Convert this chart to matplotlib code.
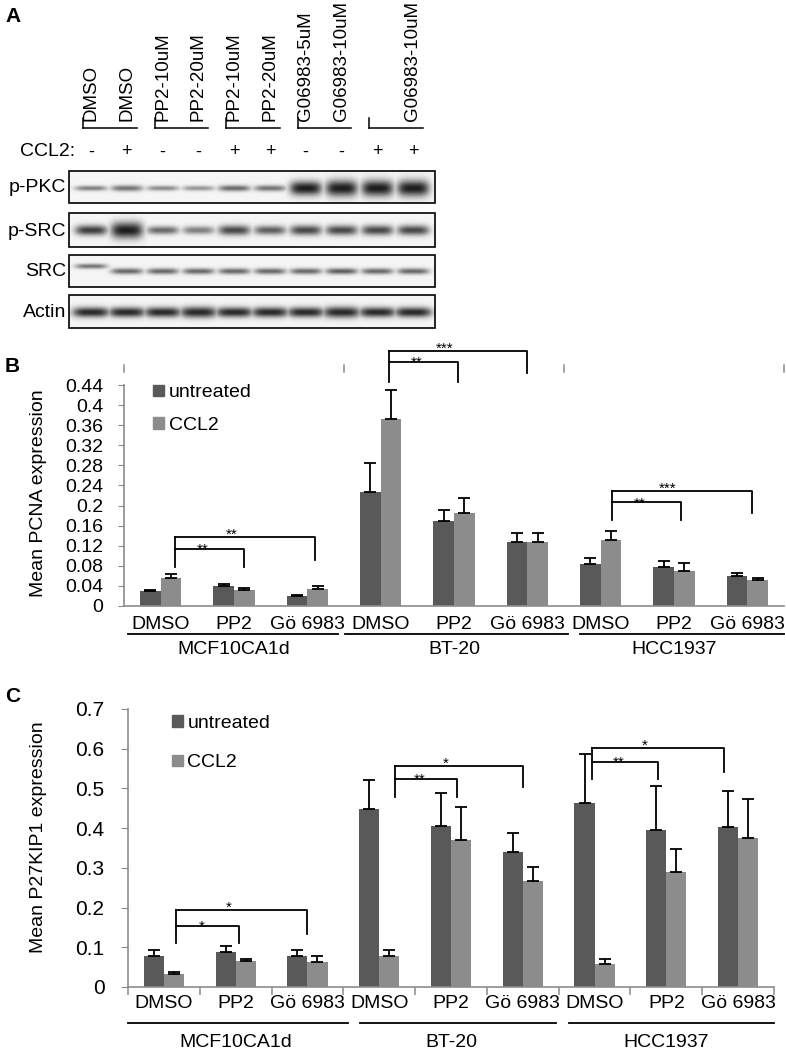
import numpy as np
import matplotlib.pyplot as plt
from matplotlib.patches import Patch, Rectangle
from matplotlib.transforms import blended_transform_factory

plt.rcParams['font.family'] = ['Liberation Sans', 'DejaVu Sans']

# ---------------- data ----------------
# panel A (western blot)
lane_names = ['DMSO', 'DMSO', 'PP2-10uM', 'PP2-20uM', 'PP2-10uM', 'PP2-20uM',
              'G06983-5uM', 'G06983-10uM', '', 'G06983-10uM']
ccl2_signs = ['-', '+', '-', '-', '+', '+', '-', '-', '+', '+']
blot_rows = ['p-PKC', 'p-SRC', 'SRC', 'Actin']
ppkc_int = [0.55, 0.6, 0.5, 0.45, 0.65, 0.6, 1.0, 1.0, 1.0, 1.0]
ppkc_thick = [2.5, 3, 2.5, 2.5, 3, 3, 7, 8, 8, 8]
psrc_int = [0.85, 1.0, 0.65, 0.55, 0.8, 0.7, 0.8, 0.8, 0.8, 0.8]
psrc_thick = [5, 8, 4, 4, 5, 4.5, 5, 5, 5, 5]
src_int = [0.6, 0.65, 0.65, 0.65, 0.65, 0.65, 0.65, 0.7, 0.65, 0.65]
src_thick = [2.5, 3, 3, 3, 3, 3, 3, 3, 3, 3]
actin_int = [0.95] * 10
actin_thick = [5, 5, 5, 5.5, 5, 5, 5, 5.5, 5, 5]

# panels B and C
treatments = ['DMSO', 'PP2', 'Gö 6983']
cell_lines = ['MCF10CA1d', 'BT-20', 'HCC1937']

pcna_untreated = [0.030, 0.039, 0.0206, 0.226, 0.169, 0.127, 0.083, 0.078, 0.059]
pcna_untreated_err = [0.002, 0.005, 0.002, 0.058, 0.023, 0.019, 0.0126, 0.012, 0.007]
pcna_ccl2 = [0.056, 0.0325, 0.0345, 0.372, 0.186, 0.127, 0.132, 0.069, 0.0525]
pcna_ccl2_err = [0.007, 0.004, 0.0045, 0.058, 0.030, 0.019, 0.017, 0.0167, 0.0035]

p27_untreated = [0.079, 0.089, 0.079, 0.449, 0.406, 0.339, 0.464, 0.395, 0.403]
p27_untreated_err = [0.013, 0.015, 0.013, 0.072, 0.083, 0.048, 0.122, 0.111, 0.091]
p27_ccl2 = [0.033, 0.065, 0.0625, 0.079, 0.370, 0.267, 0.058, 0.290, 0.375]
p27_ccl2_err = [0.006, 0.005, 0.0145, 0.015, 0.083, 0.035, 0.012, 0.058, 0.098]

# significance brackets: [base, inner, outer, outer_end] per cell line
pcna_sig_inner = ['**', '**', '**']
pcna_sig_outer = ['**', '***', '***']
pcna_brk = [[0.078, 0.114, 0.137, 0.092],
            [0.446, 0.486, 0.508, 0.464],
            [0.171, 0.207, 0.229, 0.185]]
p27_sig_inner = ['*', '**', '**']
p27_sig_outer = ['*', '*', '*']
p27_brk = [[0.111, 0.154, 0.194, 0.134],
           [0.478, 0.524, 0.557, 0.504],
           [0.524, 0.567, 0.602, 0.542]]

dark = '#595959'
light = '#8c8c8c'
axis_grey = '#8c8c8c'

fig = plt.figure(figsize=(7.86, 10.5), dpi=100)

# ---------------- panel A ----------------
axA = fig.add_axes([0, 0, 1, 1])
axA.axis('off')

lane_x = np.linspace(91, 413, len(lane_names))
for x, name in zip(lane_x, lane_names):
    axA.text(x, 121, name, rotation=90, ha='center', va='bottom', fontsize=13.5)
for g in range(5):
    xa, xb = lane_x[2 * g] - 8, lane_x[2 * g + 1] + 10
    axA.plot([xa, xb], [128, 128], color='k', lw=1.1)
    axA.plot([xa, xa], [118, 128], color='k', lw=1.1)

axA.text(20, 152, 'CCL2:', ha='left', va='center', fontsize=14)
for x, s in zip(lane_x, ccl2_signs):
    axA.text(x, 152, s, ha='center', va='center', fontsize=13)

boxes = [(171, 203, 188), (213, 247, 230), (255, 287, 271), (295, 328, 312)]
intens = [ppkc_int, psrc_int, src_int, actin_int]
thicks = [ppkc_thick, psrc_thick, src_thick, actin_thick]
bx0, bx1 = 69, 435
xx = np.arange(bx0, bx1, 0.5)
for (y0, y1, yc), name, ints, ths in zip(boxes, blot_rows, intens, thicks):
    yy = np.arange(y0, y1, 0.5)
    X, Y = np.meshgrid(xx, yy)
    dk = np.zeros_like(X)
    for i, (xc, a, th) in enumerate(zip(lane_x, ints, ths)):
        yoff = -5 if (name == 'SRC' and i == 0) else 0
        hw = 16 if name != 'Actin' else 18.5
        band = a * np.exp(-(np.abs(X - xc) / hw) ** 4) * np.exp(-((Y - yc - yoff) / th) ** 2)
        dk = np.maximum(dk, band)
    img = 0.96 - 0.85 * dk
    axA.imshow(img, cmap='gray', vmin=0, vmax=1, extent=(bx0, bx1, y1, y0),
               interpolation='bilinear', aspect='auto')
    axA.add_patch(Rectangle((bx0, y0), bx1 - bx0, y1 - y0, fill=False, ec='k', lw=1.2))
    axA.text(66, (y0 + y1) / 2 + 1, name, ha='right', va='center', fontsize=14)
axA.set_xlim(0, 786)
axA.set_ylim(1050, 0)

axA.text(5, 17, 'A', fontsize=15, fontweight='bold', va='center', ha='left')
axA.text(5, 367, 'B', fontsize=15, fontweight='bold', va='center', ha='left')
axA.text(5, 697, 'C', fontsize=15, fontweight='bold', va='center', ha='left')


def bar_panel(ax, unt, unt_err, ccl, ccl_err, ylim, yticks, legend_anchor, spacing):
    x = np.arange(len(unt))
    w = 0.28
    ax.bar(x - w / 2, unt, w, color=dark, zorder=2)
    ax.bar(x + w / 2, ccl, w, color=light, zorder=2)
    ax.errorbar(x - w / 2, unt, yerr=[np.zeros(len(unt)), unt_err], fmt='none',
                ecolor='k', elinewidth=1.3, capsize=4, capthick=1.3, zorder=3)
    ax.errorbar(x + w / 2, ccl, yerr=[np.zeros(len(ccl)), ccl_err], fmt='none',
                ecolor='k', elinewidth=1.3, capsize=4, capthick=1.3, zorder=3)
    ax.set_xlim(-0.5, len(unt) - 0.5)
    ax.set_ylim(*ylim)
    ax.set_yticks(yticks)
    ax.set_yticklabels([('%g' % t) for t in yticks])
    ax.set_xticks(x)
    ax.set_xticklabels(treatments * 3)
    for s in ['top', 'right']:
        ax.spines[s].set_visible(False)
    for s in ['left', 'bottom']:
        ax.spines[s].set_color(axis_grey)
        ax.spines[s].set_linewidth(1.2)
    ax.set_facecolor('none')
    ax.legend(handles=[Patch(color=dark, label='untreated'), Patch(color=light, label='CCL2')],
              frameon=False, fontsize=14, handlelength=0.55, handleheight=0.55,
              handletextpad=0.25, borderpad=0, borderaxespad=0, loc='upper left',
              bbox_to_anchor=legend_anchor, labelspacing=spacing)


def brackets(ax, brk, lab_in, lab_out, off_l, off_in, off_out):
    for g in range(3):
        base, inner, outer, oend = brk[g]
        xl = 3 * g + off_l[g]
        xi = 3 * g + 1 + off_in[g]
        xo = 3 * g + 2 + off_out[g]
        kw = dict(color='k', lw=1.3, clip_on=False, zorder=4)
        ax.plot([xl, xl], [base, outer], **kw)
        ax.plot([xl, xo, xo], [outer, outer, oend], **kw)
        ax.plot([xl, xi, xi], [inner, inner, base], **kw)
        ax.annotate(lab_out[g], (xl + 0.4 * (xo - xl), outer), xytext=(0, -3.5),
                    textcoords='offset points', ha='center', va='bottom', fontsize=11,
                    annotation_clip=False)
        ax.annotate(lab_in[g], (xl + 0.4 * (xi - xl), inner), xytext=(0, -6),
                    textcoords='offset points', ha='center', va='bottom', fontsize=11,
                    annotation_clip=False)


def groups(ax, y_line, y_text, spans):
    tr = blended_transform_factory(ax.transData, ax.transAxes)
    for g, name in enumerate(cell_lines):
        a, b = spans[g]
        ax.plot([a, b], [y_line, y_line], color='k', lw=1.3, transform=tr, clip_on=False)
        ax.text(3 * g + 1, y_text, name, transform=tr, ha='center', va='center', fontsize=14)


# ---------------- panel B ----------------
axB = fig.add_axes([124 / 786, 1 - 606 / 1050, 660 / 786, 221 / 1050])
bar_panel(axB, pcna_untreated, pcna_untreated_err, pcna_ccl2, pcna_ccl2_err,
          (0, 0.44), np.round(np.arange(0, 0.45, 0.04), 2), (0.044, 1.003), 0.8)
axB.tick_params(axis='y', length=4, color=axis_grey, pad=11, labelsize=14)
axB.tick_params(axis='x', length=0, pad=7, labelsize=14)
brackets(axB, pcna_brk, pcna_sig_inner, pcna_sig_outer,
         [0.2, 0.11, 0.15], [0.14, 0.05, 0.1], [0.11, 0.0, 0.07])
groups(axB, -0.127, -0.199, [(-0.44, 2.42), (2.51, 5.56), (5.72, 8.5)])
trB = blended_transform_factory(axB.transData, axB.transAxes)
for xb in np.arange(-0.5, 9, 3):
    axB.plot([xb, xb], [1.06, 1.09], color=axis_grey, lw=1.1, transform=trB, clip_on=False)
fig.text(39 / 786, 1 - 493 / 1050, 'Mean PCNA expression', rotation=90,
         ha='center', va='center', fontsize=14)

# ---------------- panel C ----------------
axC = fig.add_axes([128 / 786, 1 - 987 / 1050, 646 / 786, 278 / 1050])
bar_panel(axC, p27_untreated, p27_untreated_err, p27_ccl2, p27_ccl2_err,
          (0, 0.7), np.round(np.arange(0, 0.71, 0.1), 1), (0.068, 0.978), 1.15)
axC.set_xticks(np.arange(-0.5, 9, 1), minor=True)
axC.tick_params(axis='y', length=5, color=axis_grey, pad=12, labelsize=15)
axC.tick_params(axis='x', which='major', length=0, pad=6, labelsize=14)
axC.tick_params(axis='x', which='minor', length=6, color=axis_grey, width=1.1)
brackets(axC, p27_brk, p27_sig_inner, p27_sig_outer,
         [0.17, 0.22, -0.03], [0.05, 0.08, -0.12], [0.0, 0.0, -0.2])
groups(axC, -0.1295, -0.2014, [(-0.5, 2.56), (2.73, 5.46), (5.65, 8.5)])
fig.text(39 / 786, 1 - 837 / 1050, 'Mean P27KIP1 expression', rotation=90,
         ha='center', va='center', fontsize=14)

fig.savefig('out.png', dpi=100)
